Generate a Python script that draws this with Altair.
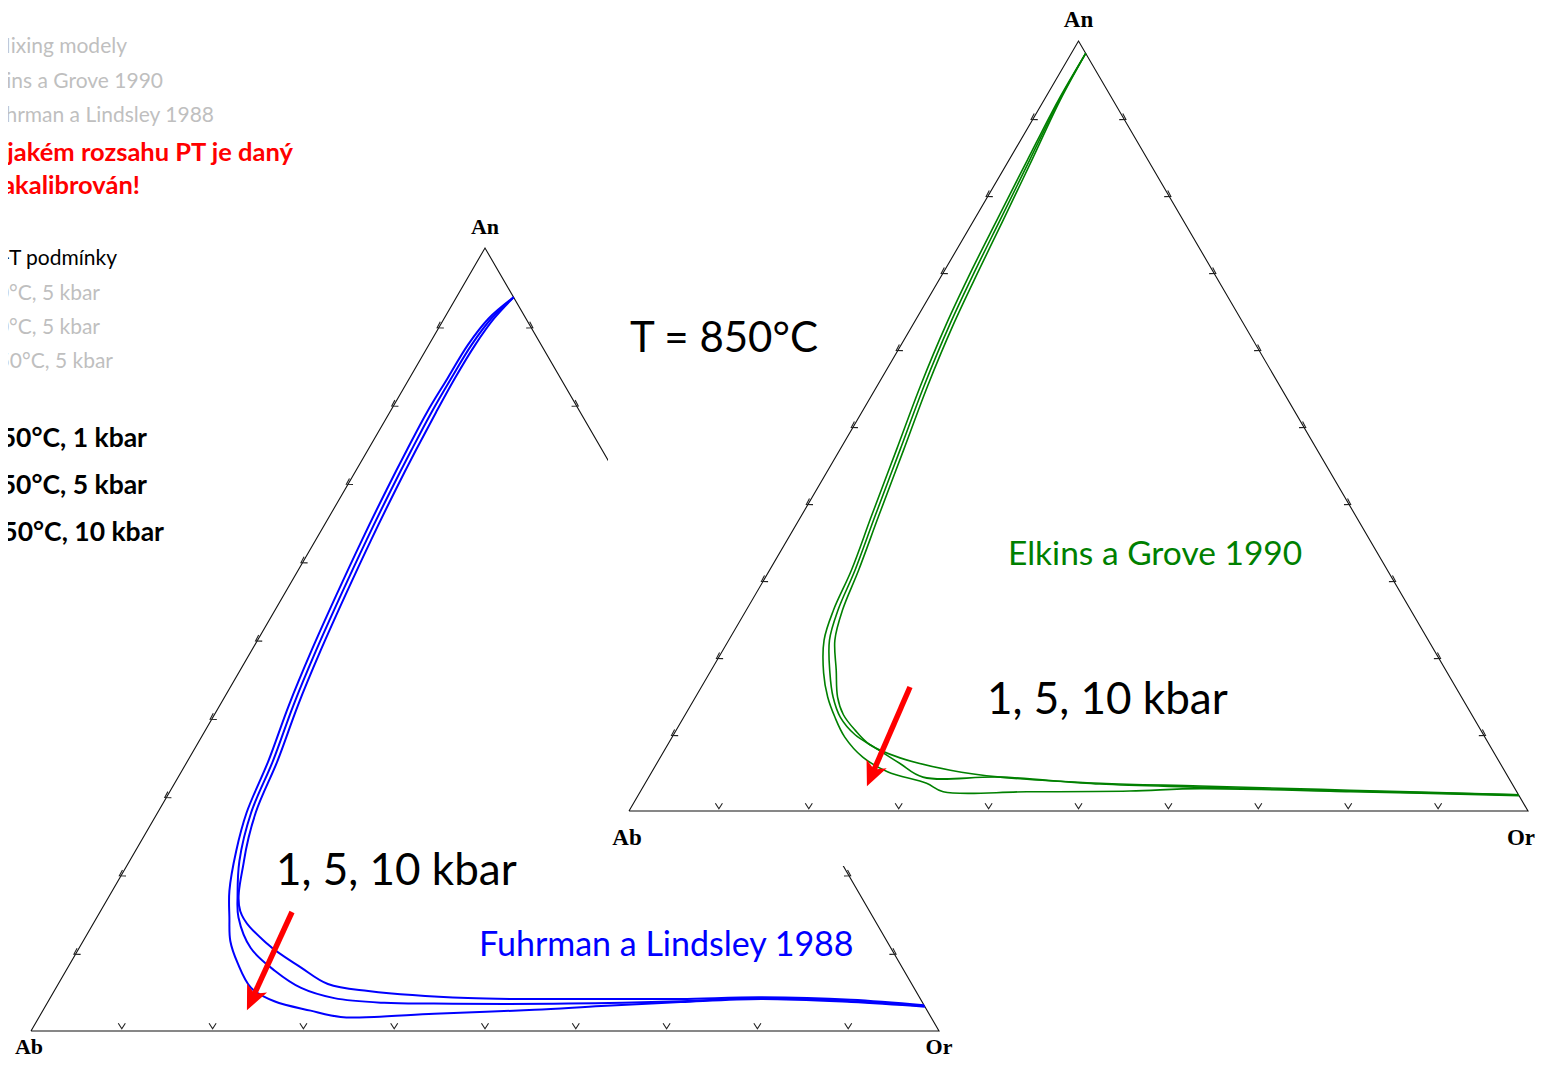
import math
import altair as alt
import pandas as pd

# ---------------- data: ternary compositions (mol % An, mol % Or; Ab = rest) ----------------
# Fuhrman a Lindsley 1988, 850 °C, 1 / 5 / 10 kbar
FL_A_AN = [93.7, 91.0, 87.6, 83.4, 79.0, 74.2, 69.1, 62.7, 55.6, 48.6, 41.6, 34.5, 27.9, 23.0, 17.9,
           14.5, 11.5, 8.7, 5.5, 3.8, 2.6, 1.8, 1.8, 2.2, 2.7, 3.2, 3.7, 4.1, 3.7, 3.1]
FL_A_OR = [6.3, 4.9, 4.3, 4.2, 4.1, 4.3, 4.6, 5.1, 5.8, 6.6, 7.6, 8.9, 9.8, 11.1, 12.9,
           14.6, 16.2, 18.4, 21.5, 24.9, 29.5, 33.2, 36.9, 43.3, 54.1, 61.2, 69.7, 78.4, 88.5, 96.9]
FL_B_AN = [93.7, 91.0, 87.6, 83.4, 79.0, 74.2, 69.1, 62.7, 55.6, 48.6, 41.6, 34.5, 27.9, 21.7, 17.3,
           14.5, 10.6, 7.7, 5.5, 4.2, 3.6, 3.5, 3.5, 3.8, 4.2, 3.8, 3.2]
FL_B_OR = [6.3, 5.2, 4.7, 4.6, 4.6, 4.8, 5.1, 5.6, 6.3, 7.1, 8.1, 9.4, 10.3, 12.1, 14.1,
           15.6, 18.9, 23.0, 27.0, 31.3, 37.1, 42.6, 57.4, 69.7, 78.3, 88.4, 96.8]
FL_C_AN = [93.7, 91.0, 87.6, 83.4, 79.0, 74.2, 69.1, 62.7, 55.6, 48.6, 41.6, 34.5, 27.9, 21.7, 15.3,
           11.1, 8.1, 6.0, 5.1, 4.2, 4.1, 4.1, 4.3, 4.0, 3.3]
FL_C_OR = [6.3, 5.5, 5.1, 5.0, 5.1, 5.3, 5.6, 6.1, 6.8, 7.6, 8.6, 9.9, 10.8, 12.6, 15.4,
           20.5, 25.7, 29.7, 34.6, 46.0, 60.7, 69.5, 78.2, 88.3, 96.7]

# Elkins a Grove 1990, 850 °C, 1 / 5 / 10 kbar
EG_A_AN = [98.4, 92.3, 84.5, 76.8, 70.3, 63.1, 55.3, 46.9, 38.4, 31.3, 26.1, 22.2, 17.9, 14.8, 12.2,
           9.6, 7.0, 5.1, 3.6, 2.5, 2.5, 2.6, 2.9, 2.5, 2.0]
EG_A_OR = [1.6, 1.6, 2.05, 2.55, 3.0, 3.7, 4.8, 6.3, 7.8, 9.1, 9.7, 10.6, 12.7, 14.7, 16.8,
           19.2, 22.5, 26.2, 31.3, 33.7, 43.0, 54.4, 62.1, 79.0, 98.0]
EG_B_AN = [98.4, 92.3, 84.5, 76.8, 70.3, 63.1, 55.3, 46.9, 38.4, 31.3, 26.1, 22.2, 17.9, 14.8, 12.2,
           9.9, 8.2, 6.2, 4.4, 4.4, 3.5, 3.1, 2.6, 2.1]
EG_B_OR = [1.6, 1.7, 2.3, 2.9, 3.4, 4.1, 5.2, 6.7, 8.2, 9.5, 10.2, 11.2, 13.4, 15.3, 17.4,
           20.2, 23.3, 27.0, 30.5, 39.1, 50.6, 62.0, 78.9, 97.9]
EG_C_AN = [98.4, 92.3, 84.5, 76.8, 70.3, 63.1, 55.3, 46.9, 38.4, 31.3, 26.1, 22.2, 18.3, 14.8, 12.5,
           10.5, 8.6, 6.9, 5.3, 4.4, 3.6, 3.25, 2.7, 2.1]
EG_C_OR = [1.6, 1.8, 2.55, 3.25, 3.8, 4.5, 5.6, 7.1, 8.6, 9.9, 10.7, 11.8, 13.9, 15.8, 17.6,
           19.9, 22.5, 26.7, 33.1, 39.1, 50.6, 61.9, 78.8, 97.9]

TICKS = [10, 20, 30, 40, 50, 60, 70, 80, 90]

SIDE_TEXT_GRAY = ["Mixing modely", "Elkins a Grove 1990", "Fuhrman a Lindsley 1988"]
SIDE_TEXT_RED = ["V jakém rozsahu PT je daný", "model nakalibrován!"]
SIDE_TEXT_PT = "P-T podmínky"
SIDE_TEXT_PT_GRAY = ["700°C, 5 kbar", "900°C, 5 kbar", "1050°C, 5 kbar"]
SIDE_TEXT_PT_BOLD = ["850°C, 1 kbar", "850°C, 5 kbar", "850°C, 10 kbar"]
TITLE_T = "T = 850°C"
PRESSURES = "1, 5, 10 kbar"
MODEL_EG = "Elkins a Grove 1990"
MODEL_FL = "Fuhrman a Lindsley 1988"

# ---------------- layout (page pixels) ----------------
W, H = 1530, 1053
LEFT_TRI = (31, 1031, 908, 783)    # Ab-corner x, base y, side length, height
RIGHT_TRI = (629, 811, 899, 770)

XS = alt.Scale(domain=[8, 8 + W], nice=False, zero=False)
YS = alt.Scale(domain=[8, 8 + H], nice=False, zero=False, reverse=True)


def to_xy(an, orr, tri):
    x0, y0, s, h = tri
    return x0 + s * (orr + an / 2.0) / 100.0, y0 - h * an / 100.0


def enc():
    return dict(x=alt.X("x:Q", scale=XS, axis=None), y=alt.Y("y:Q", scale=YS, axis=None))


def curve_df(curves, tri):
    rows = []
    for name, ans, ors in curves:
        for i, (a, o) in enumerate(zip(ans, ors)):
            x, y = to_xy(a, o, tri)
            rows.append(dict(curve=name, i=i, x=x, y=y))
    return pd.DataFrame(rows)


def edges_df(tri):
    rows = []
    for i, (a, o) in enumerate([(0, 0), (0, 100), (100, 0), (0, 0)]):
        x, y = to_xy(a, o, tri)
        rows.append(dict(i=i, x=x, y=y))
    return pd.DataFrame(rows)


def ticks_df(tri, edge):
    rows = []
    for t in TICKS:
        if edge == "bottom":
            a, o = 0, t
        elif edge == "left":
            a, o = t, 0
        else:
            a, o = t, 100 - t
        x, y = to_xy(a, o, tri)
        rows.append(dict(x=x, y=y))
    return pd.DataFrame(rows)


def corners_df(tri, which):
    comp = {"An": (100, 0), "Ab": (0, 0), "Or": (0, 100)}
    rows = []
    for c in which:
        x, y = to_xy(*comp[c], tri)
        rows.append(dict(x=x, y=y, text=c))
    return pd.DataFrame(rows)


CHEVRON = "M-1,-0.8L0,0.8L1,-0.8"
HEAD = "M0,0.92L0.83,-0.92L0,-0.45L-0.83,-0.92Z"


def triangle_layers(tri, curves, color, width, or_dx, base_dy, label_size):
    tick_style = dict(shape=CHEVRON, filled=False, color="#222222", strokeWidth=1.1, size=50, opacity=1)
    lab = dict(font="Liberation Serif", fontWeight="bold", fontSize=label_size, baseline="middle")
    layers = [
        alt.Chart(edges_df(tri)).mark_line(color="#111111", strokeWidth=1.1).encode(**enc(), order="i:Q"),
        alt.Chart(ticks_df(tri, "bottom")).mark_point(yOffset=-5, **tick_style).encode(**enc()),
        alt.Chart(ticks_df(tri, "left")).mark_point(angle=60, **tick_style).encode(**enc()),
        alt.Chart(ticks_df(tri, "right")).mark_point(angle=300, **tick_style).encode(**enc()),
        alt.Chart(curve_df(curves, tri)).mark_line(color=color, strokeWidth=width,
                                                   interpolate="catmull-rom").encode(
            **enc(), detail="curve:N", order="i:Q"),
        alt.Chart(corners_df(tri, ["An"])).mark_text(dy=-21, **lab).encode(**enc(), text="text:N"),
        alt.Chart(corners_df(tri, ["Ab"])).mark_text(dy=base_dy, dx=-2, **lab).encode(**enc(), text="text:N"),
        alt.Chart(corners_df(tri, ["Or"])).mark_text(dy=base_dy, dx=or_dx, **lab).encode(**enc(), text="text:N"),
    ]
    return layers


def arrow_layers(start, tip):
    dx, dy = tip[0] - start[0], tip[1] - start[1]
    L = math.hypot(dx, dy)
    ux, uy = dx / L, dy / L
    shaft = pd.DataFrame([dict(x=start[0], y=start[1], x2=tip[0] - 15 * ux, y2=tip[1] - 15 * uy)])
    ang = math.degrees(math.asin(-ux))
    head = pd.DataFrame([dict(x=tip[0] - 12 * ux, y=tip[1] - 12 * uy)])
    return [
        alt.Chart(shaft).mark_rule(color="#ff0000", strokeWidth=5.5).encode(**enc(), x2="x2:Q", y2="y2:Q"),
        alt.Chart(head).mark_point(shape=HEAD, filled=True, color="#ff0000", size=700, opacity=1,
                                   strokeWidth=0, angle=ang).encode(**enc()),
    ]


def text_layer(items, **style):
    df = pd.DataFrame([dict(text=t, x=x, y=y) for t, x, y in items])
    return alt.Chart(df).mark_text(baseline="alphabetic", font="Lato", **style).encode(**enc(), text="text:N")


fl_curves = [("1 kbar", FL_A_AN, FL_A_OR), ("5 kbar", FL_B_AN, FL_B_OR), ("10 kbar", FL_C_AN, FL_C_OR)]
eg_curves = [("1 kbar", EG_A_AN, EG_A_OR), ("5 kbar", EG_B_AN, EG_B_OR), ("10 kbar", EG_C_AN, EG_C_OR)]

layers = []
layers += triangle_layers(LEFT_TRI, fl_curves, "#0000ff", 2.0, 0, 16, 22)
layers += arrow_layers((292, 912), (247, 1010))
# the Elkins & Grove picture is pasted over the right part of the first diagram
cover = pd.DataFrame([dict(x=608, x2=1560, y=-10, y2=866)])
layers.append(alt.Chart(cover).mark_rect(color="white").encode(**enc(), x2="x2:Q", y2="y2:Q"))
layers += triangle_layers(RIGHT_TRI, eg_curves, "#008000", 1.6, -7, 27, 23)
layers += arrow_layers((910, 687), (867, 786))

gray = "#bfbfbf"
layers.append(text_layer(list(zip(SIDE_TEXT_GRAY, [127, 163, 214], [53, 88, 122])),
                         fontSize=21, color=gray, align="right"))
layers.append(text_layer(list(zip(SIDE_TEXT_RED, [293, 140], [161, 194])),
                         fontSize=25.5, fontWeight="bold", color="#ff0000", align="right"))
layers.append(text_layer([(SIDE_TEXT_PT, 117, 265)], fontSize=21, color="black", align="right"))
layers.append(text_layer(list(zip(SIDE_TEXT_PT_GRAY, [100, 100, 113], [300, 334, 368])),
                         fontSize=21, color=gray, align="right"))
layers.append(text_layer(list(zip(SIDE_TEXT_PT_BOLD, [147, 147, 164], [447, 494, 541])),
                         fontSize=26.5, fontWeight="bold", color="black", align="right"))
layers.append(text_layer([(TITLE_T, 630, 352)], fontSize=42, color="black", align="left"))
layers.append(text_layer([(PRESSURES, 987, 714), (PRESSURES, 276, 885)], fontSize=44, color="black", align="left"))
layers.append(text_layer([(MODEL_EG, 1008, 565)], fontSize=33.5, color="#008000", align="left"))
layers.append(text_layer([(MODEL_FL, 479, 956)], fontSize=34, color="#0000ff", align="left"))

chart = alt.layer(*layers).properties(
    width=W, height=H, padding=0, autosize=alt.AutoSizeParams(type="none")
).configure_view(stroke=None)

chart.save("out.html", embed_options={"renderer": "svg", "actions": False})
